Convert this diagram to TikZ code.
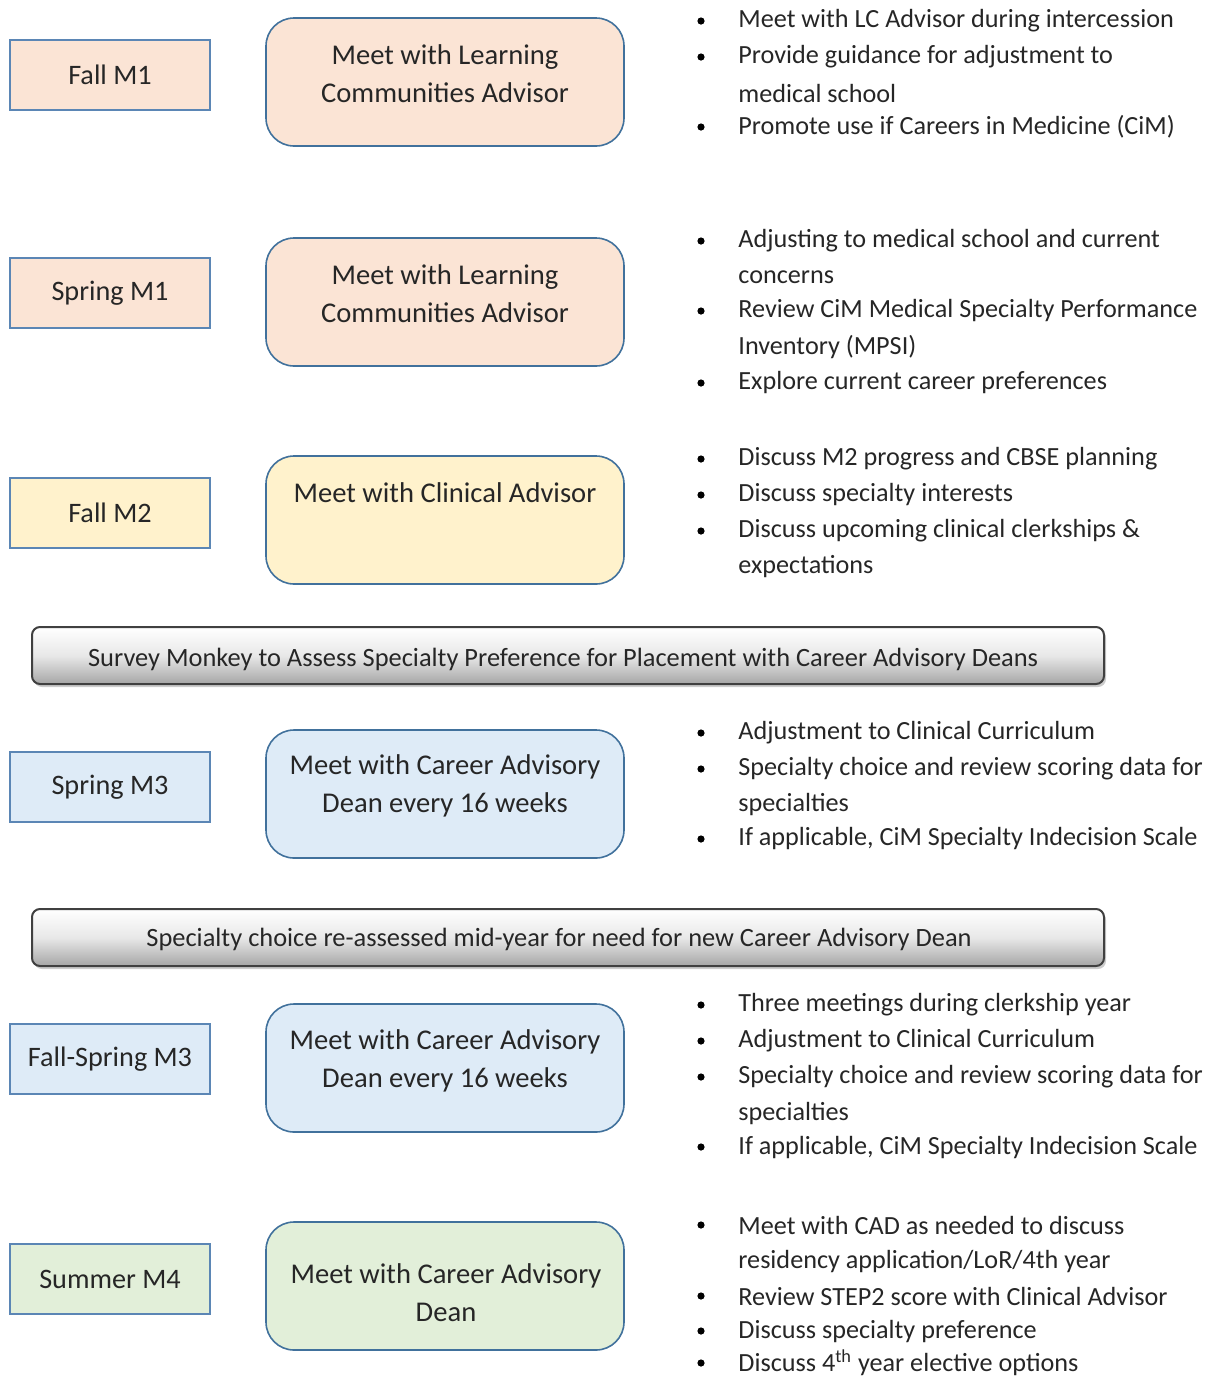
\documentclass[tikz,border=0pt]{standalone}
\usepackage{fontspec}
\setmainfont{Carlito}
\usetikzlibrary{shadows}
\definecolor{peach}{HTML}{FBE4D5}
\definecolor{cream}{HTML}{FFF2CC}
\definecolor{paleblue}{HTML}{DEEBF7}
\definecolor{palegreen}{HTML}{E2EFD9}
\definecolor{edgedark}{HTML}{41719C}
\definecolor{edgelight}{HTML}{5B86B5}
\definecolor{ink}{HTML}{262626}
\newcommand\bul[3]{\node[dot] (#1d) at (701,#2) {}; \node[btxt] (#1) at (738,#2) {#3};}
\newcommand\cnt[3]{\node[btxt] (#1) at (738,#2) {#3};}
\begin{document}
\begin{tikzpicture}[x=0.5pt,y=-0.5pt,
  term/.style={draw=edgelight, line width=0.9pt, minimum width=100pt, minimum height=35pt, inner sep=0pt, text=ink, font=\fontsize{14.1}{17}\selectfont},
  meet/.style={draw=edgedark, line width=0.8pt, rounded corners=14pt, minimum width=179pt, minimum height=64pt, inner sep=0pt},
  mtxt/.style={align=center, text=ink, font=\fontsize{14.3}{19}\selectfont, inner sep=0pt},
  banner/.style={draw=black!75, line width=1pt, rounded corners=4pt, minimum width=536pt, minimum height=28.5pt, inner sep=0pt,
     top color=white, bottom color=black!35, middle color=black!9, drop shadow={shadow xshift=1pt, shadow yshift=-1.5pt, opacity=0.4}},
  bantxt/.style={text=ink, font=\fontsize{13.2}{15}\selectfont, inner sep=0pt},
  dot/.style={circle, fill=black, inner sep=0pt, minimum size=3.6pt},
  btxt/.style={anchor=west, inner sep=0pt, text=ink, font=\fontsize{13.1}{15}\selectfont}]
\useasboundingbox (0,0) rectangle (1208,1378);

% left term boxes
\node[term, fill=peach] (t1) at (110,75) {Fall M1};
\node[term, fill=peach] (t2) at (110,293) {Spring M1};
\node[term, fill=cream] (t3) at (110,513) {Fall M2};
\node[term, fill=paleblue] (t4) at (110,787) {Spring M3};
\node[term, fill=paleblue] (t5) at (110,1059) {Fall-Spring M3};
\node[term, fill=palegreen] (t6) at (110,1279) {Summer M4};

% rounded meeting boxes
\node[meet, fill=peach] (m1) at (445,82) {};
\node[meet, fill=peach] (m2) at (445,302) {};
\node[meet, fill=cream] (m3) at (445,520) {};
\node[meet, fill=paleblue] (m4) at (445,794) {};
\node[meet, fill=paleblue] (m5) at (445,1068) {};
\node[meet, fill=palegreen] (m6) at (445,1286) {};
\node[mtxt] (m1t) at (445,74) {Meet with Learning\\Communities Advisor};
\node[mtxt] (m2t) at (445,294) {Meet with Learning\\Communities Advisor};
\node[mtxt] (m3t) at (445,493) {Meet with Clinical Advisor};
\node[mtxt] (m4t) at (445,786) {Meet with Career Advisory\\Dean every 16 weeks};
\node[mtxt] (m5t) at (445,1061) {Meet with Career Advisory\\Dean every 16 weeks};
\node[mtxt] (m6t) at (446,1293) {Meet with Career Advisory\\Dean};

% banners
\node[banner] (s1) at (568,655.5) {};
\node[bantxt] (s1t) at (563,659) {Survey Monkey to Assess Specialty Preference for Placement with Career Advisory Deans};
\node[banner] (s2) at (568,937.5) {};
\node[bantxt] (s2t) at (559,939) {Specialty choice re-assessed mid-year for need for new Career Advisory Dean};

% bullets
\bul{a1}{21}{Meet with LC Advisor during intercession}
\bul{a2}{57}{Provide guidance for adjustment to}
\cnt{a3}{93}{medical school}
\bul{a4}{127}{Promote use if Careers in Medicine (CiM)}

\bul{b1}{241}{Adjusting to medical school and current}
\cnt{b2}{277}{concerns}
\bul{b3}{311}{Review CiM Medical Specialty Performance}
\cnt{b4}{347}{Inventory (MPSI)}
\bul{b5}{383}{Explore current career preferences}

\bul{c1}{459}{Discuss M2 progress and CBSE planning}
\bul{c2}{495}{Discuss specialty interests}
\bul{c3}{531}{Discuss upcoming clinical clerkships \&}
\cnt{c4}{567}{expectations}

\bul{d1}{733}{Adjustment to Clinical Curriculum}
\bul{d2}{769}{Specialty choice and review scoring data for}
\cnt{d3}{805}{specialties}
\bul{d4}{839}{If applicable, CiM Specialty Indecision Scale}

\bul{e1}{1005}{Three meetings during clerkship year}
\bul{e2}{1041}{Adjustment to Clinical Curriculum}
\bul{e3}{1077}{Specialty choice and review scoring data for}
\cnt{e4}{1113}{specialties}
\bul{e5}{1147}{If applicable, CiM Specialty Indecision Scale}

\bul{f1}{1225}{Meet with CAD as needed to discuss}
\cnt{f2}{1261}{residency application/LoR/4th year}
\bul{f3}{1296}{Review STEP2 score with Clinical Advisor}
\bul{f4}{1331}{Discuss specialty preference}
\bul{f5}{1363}{Discuss 4\textsuperscript{th} year elective options}
\end{tikzpicture}
\end{document}
